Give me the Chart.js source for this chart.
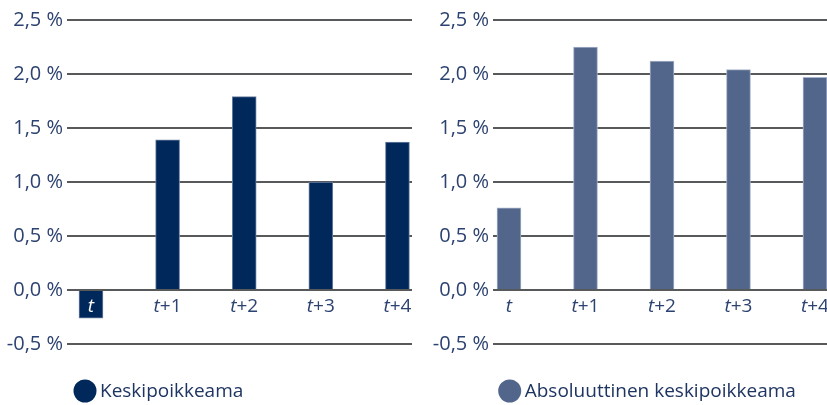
<!DOCTYPE html>
<html>
<head>
<meta charset="utf-8">
<script src="https://cdn.jsdelivr.net/npm/chart.js@4/dist/chart.umd.min.js"></script>
<style>
  html, body { margin: 0; padding: 0; background: #fff; }
  #wrap { position: relative; width: 827px; height: 405px; overflow: hidden; }
  #wrap canvas { position: absolute; top: 0; }
  #left { left: 0; }
  #right { left: 410px; }
</style>
</head>
<body>
<div id="wrap">
  <canvas id="left" width="420" height="405"></canvas>
  <canvas id="right" width="430" height="405"></canvas>
</div>
<script>
const categories = ['t', 't+1', 't+2', 't+3', 't+4'];
const keskipoikkeama = [-0.26, 1.39, 1.79, 1.0, 1.37];
const absKeskipoikkeama = [0.76, 2.25, 2.12, 2.04, 1.97];
const yMin = -0.5, yMax = 2.5, yStep = 0.5;

const FONT = '"Open Sans", "Liberation Sans", sans-serif';
const TEXT = '#2c4270';
const GRID = '#58595b';

// Category labels: italic "t" followed by an upright offset ("+1" ...)
const tickLabels = {
  id: 'tickLabels',
  afterDatasetsDraw(chart) {
    const { ctx, scales: { x, y } } = chart;
    const data = chart.data.datasets[0].data;
    const base = y.getPixelForValue(0) + 22;
    ctx.save();
    ctx.textBaseline = 'alphabetic';
    ctx.textAlign = 'left';
    categories.forEach((label, i) => {
      const head = label.charAt(0), tail = label.slice(1);
      ctx.font = 'italic 19px ' + FONT;
      const w1 = ctx.measureText(head).width;
      ctx.font = '19px ' + FONT;
      const w2 = ctx.measureText(tail).width;
      const left = x.getPixelForValue(i) - (w1 + w2) / 2;
      ctx.fillStyle = data[i].y < 0 ? '#ffffff' : TEXT;
      ctx.font = 'italic 19px ' + FONT;
      ctx.fillText(head, left, base);
      ctx.font = '19px ' + FONT;
      ctx.fillText(tail, left + w1, base);
    });
    ctx.restore();
  }
};

// Round-dot legend under the plot
const dotLegend = {
  id: 'dotLegend',
  afterDraw(chart, args, opts) {
    const { ctx } = chart;
    const ds = chart.data.datasets[0];
    ctx.save();
    ctx.fillStyle = ds.backgroundColor;
    ctx.beginPath();
    ctx.arc(opts.x, opts.y, 11.5, 0, Math.PI * 2);
    ctx.fill();
    ctx.font = '19px ' + FONT;
    ctx.fillStyle = '#1e3461';
    ctx.textBaseline = 'middle';
    ctx.fillText(ds.label, opts.x + 15, opts.y + 1);
    ctx.restore();
  }
};

function makeChart(id, values, color, edge, label, xMin, xMax, axisWidth, padRight, legendX) {
  return new Chart(document.getElementById(id), {
    type: 'bar',
    data: {
      datasets: [{
        label: label,
        data: values.map((v, i) => ({ x: i, y: v })),
        backgroundColor: color,
        borderColor: edge,
        borderWidth: 1,
        barThickness: 24
      }]
    },
    options: {
      responsive: false,
      animation: false,
      devicePixelRatio: 1,
      layout: { padding: { top: 20, bottom: 61, left: 0, right: padRight } },
      plugins: {
        legend: { display: false },
        tooltip: { enabled: false },
        dotLegend: { x: legendX, y: 391 }
      },
      scales: {
        x: {
          type: 'linear',
          display: false,
          offset: false,
          min: xMin,
          max: xMax
        },
        y: {
          min: yMin,
          max: yMax,
          afterFit: s => { s.width = axisWidth; },
          border: { display: false },
          grid: { color: GRID, lineWidth: 2, drawTicks: false },
          ticks: {
            stepSize: yStep,
            padding: 4,
            color: TEXT,
            font: { family: FONT, size: 20 },
            callback: v => v.toFixed(1).replace('.', ',') + ' %'
          }
        }
      }
    },
    plugins: [tickLabels, dotLegend]
  });
}

makeChart('left', keskipoikkeama, '#00285a', '#6f82a3', 'Keskipoikkeama',
  -0.313, 4.19, 67, 8, 85);
makeChart('right', absKeskipoikkeama, '#52668c', '#a6b3c8', 'Absoluuttinen keskipoikkeama',
  -0.209, 4.327, 83, 0, 99.7);
</script>
</body>
</html>
